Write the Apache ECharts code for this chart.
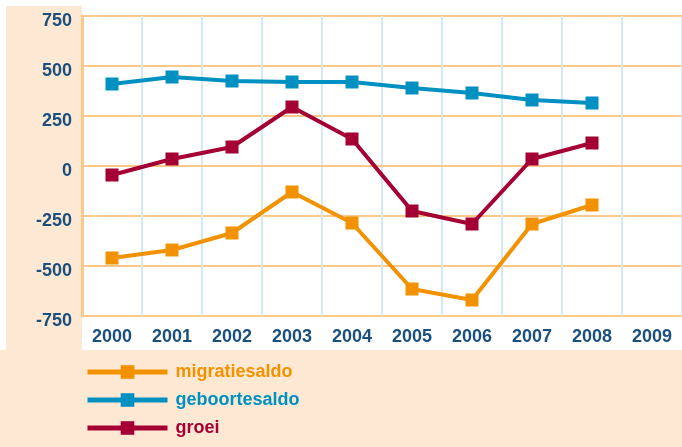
<!DOCTYPE html>
<html>
<head>
<meta charset="utf-8">
<script src="https://cdn.jsdelivr.net/npm/echarts@6/dist/echarts.min.js"></script>
<style>
  html, body { margin: 0; padding: 0; background: #fff; }
  #chart { width: 682px; height: 447px; }
</style>
</head>
<body>
<div id="chart"></div>
<script>
// years on the x axis (2009 has no data yet)
const years = ['2000', '2001', '2002', '2003', '2004', '2005', '2006', '2007', '2008', '2009'];

const migratiesaldo = [-460, -420, -335, -130, -285, -615, -670, -290, -195, null];
const geboortesaldo = [410, 445, 425, 420, 420, 390, 365, 330, 315, null];
const groei = [-45, 35, 95, 295, 135, -225, -290, 35, 115, null];

const peach = '#fde9d3';
const labelBlue = '#1b4f7e';

function lineSeries(name, data, color) {
    return {
        name: name,
        type: 'line',
        data: data,
        symbol: 'rect',
        symbolSize: 13,
        lineStyle: { color: color, width: 4 },
        itemStyle: { color: color },
        emphasis: { disabled: true },
        animation: false
    };
}

function legendItem(name, color) {
    return {
        name: name,
        textStyle: { color: color },
        lineStyle: { color: color, width: 5 },
        itemStyle: { color: color }
    };
}

const chart = echarts.init(document.getElementById('chart'), null, { renderer: 'canvas' });

chart.setOption({
    backgroundColor: peach,
    textStyle: { fontFamily: 'Liberation Sans, Arial, sans-serif' },
    graphic: [
        { type: 'rect', z: -10, shape: { x: 82, y: 0, width: 600, height: 350 }, style: { fill: '#fff' } },
        { type: 'rect', z: -10, shape: { x: 0, y: 0, width: 82, height: 6 }, style: { fill: '#fff' } },
        { type: 'rect', z: -10, shape: { x: 0, y: 0, width: 6, height: 350 }, style: { fill: '#fff' } }
    ],
    grid: { left: 82, right: 0, top: 16, height: 300, containLabel: false },
    xAxis: {
        type: 'category',
        data: years,
        boundaryGap: true,
        axisLine: { show: true, lineStyle: { color: '#fcc98a', width: 2 } },
        axisTick: { show: false },
        axisLabel: { color: labelBlue, fontSize: 18, fontWeight: 'bold', margin: 12 },
        splitLine: { show: true, lineStyle: { color: '#d3eaf4', width: 2 } }
    },
    yAxis: {
        type: 'value',
        min: -750,
        max: 750,
        interval: 250,
        axisLine: { show: true, lineStyle: { color: '#fcc98a', width: 3 } },
        axisTick: { show: false },
        axisLabel: {
            margin: 10,
            formatter: '{v|{value}}',
            rich: {
                v: { color: labelBlue, fontSize: 18, fontWeight: 'bold', padding: [11, 0, 0, 0] }
            }
        },
        splitLine: { show: true, lineStyle: { color: '#fcc98a', width: 2 } }
    },
    legend: {
        orient: 'vertical',
        left: 80,
        top: 358,
        itemWidth: 80,
        itemHeight: 17,
        itemGap: 10,
        textStyle: { fontSize: 18, fontWeight: 'bold', padding: [5, 0, 0, 3] },
        data: [
            legendItem('migratiesaldo', '#f39200'),
            legendItem('geboortesaldo', '#0090c2'),
            legendItem('groei', '#a50034')
        ],
        selectedMode: false
    },
    series: [
        lineSeries('migratiesaldo', migratiesaldo, '#f39200'),
        lineSeries('geboortesaldo', geboortesaldo, '#0090c2'),
        lineSeries('groei', groei, '#a50034')
    ]
});
</script>
</body>
</html>
